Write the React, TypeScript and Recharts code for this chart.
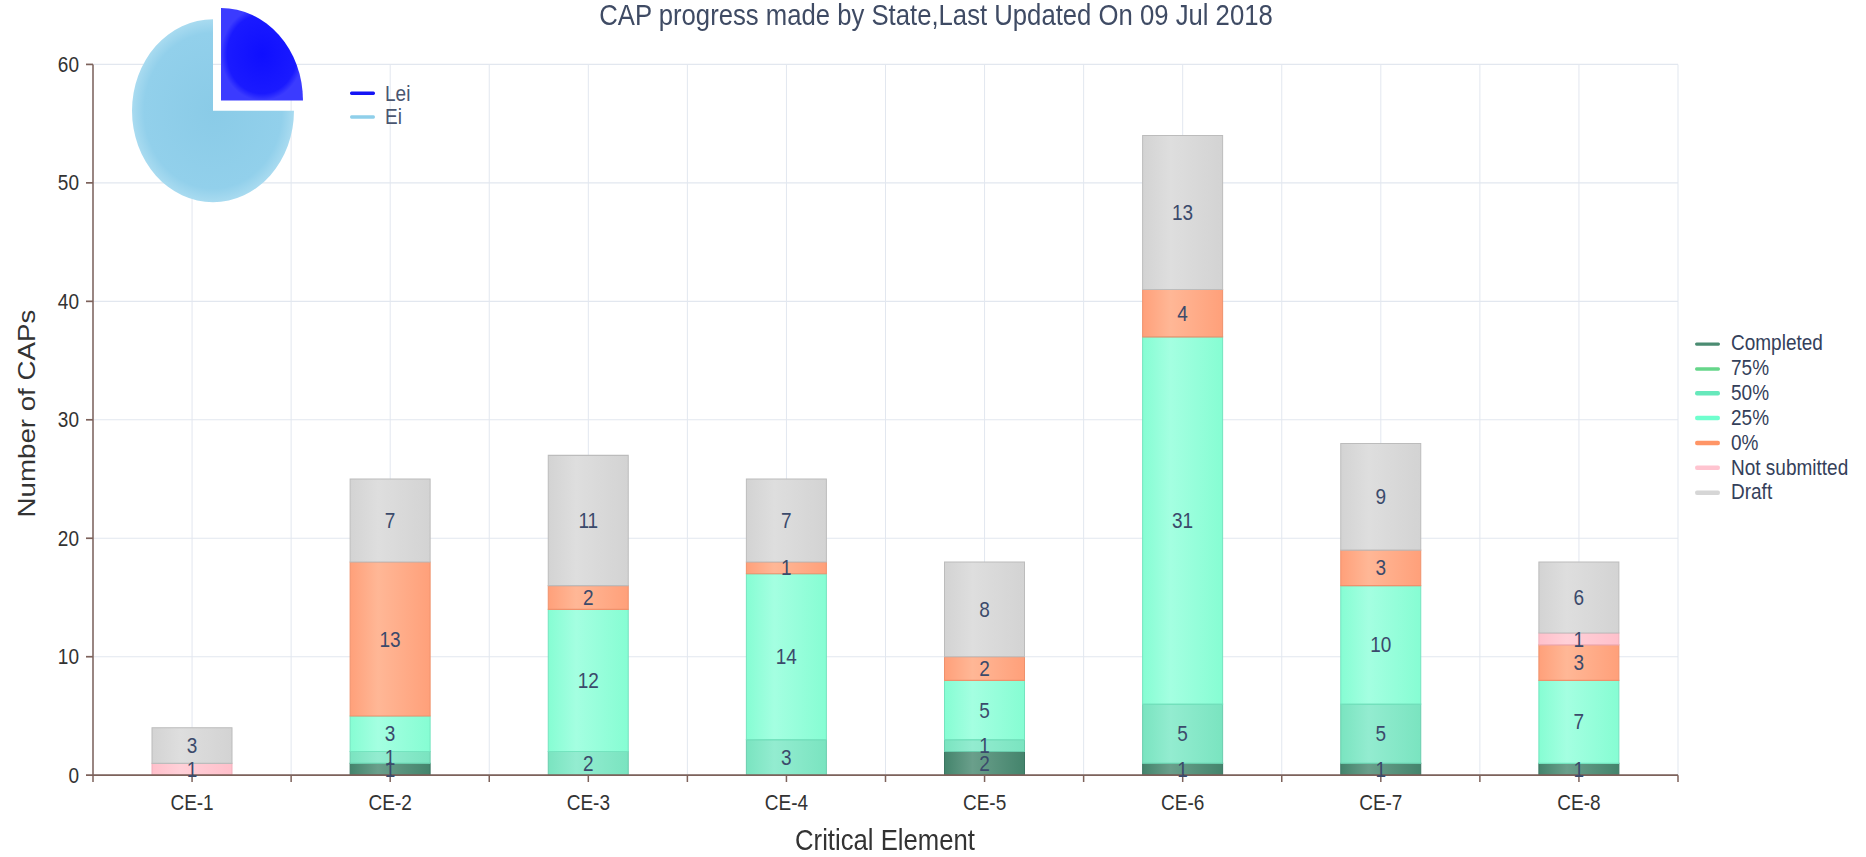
import React from 'react';
import { BarChart, Bar, XAxis, YAxis, CartesianGrid, LabelList, PieChart, Pie, Cell } from 'recharts';

// ---------------------------------------------------------------------------
// Data
// ---------------------------------------------------------------------------

const categories = ['CE-1', 'CE-2', 'CE-3', 'CE-4', 'CE-5', 'CE-6', 'CE-7', 'CE-8'];
const completed = [0, 1, 0, 0, 2, 1, 1, 1];
const pct75 = [0, 0, 0, 0, 0, 0, 0, 0];
const pct50 = [0, 1, 2, 3, 1, 5, 5, 0];
const pct25 = [0, 3, 12, 14, 5, 31, 10, 7];
const pct0 = [0, 13, 2, 1, 2, 4, 3, 3];
const notSubmitted = [1, 0, 0, 0, 0, 0, 0, 1];
const draft = [3, 7, 11, 7, 8, 13, 9, 6];
const yTicks = [0, 10, 20, 30, 40, 50, 60];

const pieNames = ['Lei', 'Ei'];
const pieValues = [1, 3];

// ---------------------------------------------------------------------------
// Styles
// ---------------------------------------------------------------------------

const FONT = '"Liberation Sans", Arial, sans-serif';
const AXIS = '#7d625b';
const STRETCH = 1.13; // the reference is stretched vertically
const W = 1866;
const H = 758;
const TICK_SIZE = 6;
const TICK_MARGIN = 11;

const series = [
  { key: 'completed', name: 'Completed', values: completed, base: '#44846c', light: '#6a9f8b', stroke: '#3a7561', legend: '#4b8c72' },
  { key: 'pct75', name: '75%', values: pct75, base: '#66d68a', light: '#84e0a2', stroke: '#58c07a', legend: '#66d68a' },
  { key: 'pct50', name: '50%', values: pct50, base: '#7ae4c0', light: '#93ecd0', stroke: '#6acdad', legend: '#66e8bb' },
  { key: 'pct25', name: '25%', values: pct25, base: '#86fdd3', light: '#a4ffe1', stroke: '#74e4bf', legend: '#6fffce' },
  { key: 'pct0', name: '0%', values: pct0, base: '#ffa07a', light: '#ffb796', stroke: '#ef916c', legend: '#ff9566' },
  { key: 'notSubmitted', name: 'Not submitted', values: notSubmitted, base: '#ffc0cb', light: '#ffd0d8', stroke: '#f0afbb', legend: '#ffc4d0' },
  { key: 'draft', name: 'Draft', values: draft, base: '#d3d3d3', light: '#dedede', stroke: '#bcbcbc', legend: '#d6d6d6' },
];

const rows = categories.map((name, i) => {
  const row: Record<string, string | number> = { name };
  series.forEach(s => { row[s.key] = s.values[i]; });
  return row;
});

const pieData = pieNames.map((name, i) => ({ name, value: pieValues[i] }));
const PIE_COLORS: Record<string, string> = { Lei: '#1414f5', Ei: '#8fcfea' };

// ---------------------------------------------------------------------------
// Pieces
// ---------------------------------------------------------------------------

function CategoryTick(props: any) {
  const { x, y, payload, index } = props;
  const half = payload?.offset || 99;
  const axisY = y - TICK_SIZE - TICK_MARGIN;
  return (
    <g>
      {index === 0 && <line x1={x - half} x2={x - half} y1={axisY} y2={axisY + TICK_SIZE} stroke={AXIS} strokeWidth={1.5} />}
      <line x1={x + half} x2={x + half} y1={axisY} y2={axisY + TICK_SIZE} stroke={AXIS} strokeWidth={1.5} />
      <text x={x} y={y} dy="0.71em" textAnchor="middle" fill="#333" fontSize={19} fontFamily={FONT}>{payload.value}</text>
    </g>
  );
}

function LegendRows({ items, rowHeight, gap }: { items: { name: string; color: string }[]; rowHeight: number; gap: number }) {
  return (
    <>
      {items.map(it => (
        <div key={it.name} style={{ display: 'flex', alignItems: 'center', height: rowHeight, whiteSpace: 'nowrap' }}>
          <span style={{ display: 'inline-block', width: 25, height: 3.5, borderRadius: 2, background: it.color, marginRight: gap }} />
          {it.name}
        </div>
      ))}
    </>
  );
}

export default function App() {
  return (
    <div style={{ position: 'absolute', left: 0, top: 0, width: W, height: H, background: '#fff', fontFamily: FONT, transform: `scaleY(${STRETCH})`, transformOrigin: '0 0' }}>
      <BarChart width={W} height={H} data={rows} margin={{ top: 57, right: 188, left: 33, bottom: 32 }}>
        <defs>
          {series.map(s => (
            <linearGradient key={s.key} id={`g-${s.key}`} x1="0" y1="0" x2="1" y2="0">
              <stop offset="0%" stopColor={s.base} />
              <stop offset="35%" stopColor={s.light} />
              <stop offset="100%" stopColor={s.base} />
            </linearGradient>
          ))}
        </defs>
        <CartesianGrid
          stroke="#e2e7ef"
          verticalCoordinatesGenerator={({ offset }: any) =>
            Array.from({ length: categories.length * 2 + 1 }, (_, i) => offset.left + (offset.width * i) / (categories.length * 2))}
        />
        <XAxis
          dataKey="name"
          height={40}
          stroke={AXIS}
          axisLine={{ stroke: AXIS, strokeWidth: 1.5 }}
          tickLine={{ stroke: AXIS, strokeWidth: 1.5 }}
          tickSize={TICK_SIZE}
          tickMargin={TICK_MARGIN}
          tick={<CategoryTick />}
          interval={0}
        />
        <YAxis
          width={60}
          domain={[0, 60]}
          ticks={yTicks}
          axisLine={{ stroke: AXIS, strokeWidth: 1.5 }}
          tickLine={{ stroke: AXIS, strokeWidth: 1.5 }}
          tickSize={7}
          tickMargin={7}
          tick={{ fill: '#333', fontSize: 19, fontFamily: FONT }}
        />
        {series.map(s => (
          <Bar
            key={s.key}
            dataKey={s.key}
            name={s.name}
            stackId="a"
            barSize={80}
            fill={`url(#g-${s.key})`}
            stroke={s.stroke}
            strokeWidth={1}
            isAnimationActive={false}
          >
            <LabelList
              dataKey={s.key}
              position="center"
              formatter={(v: any) => (v ? v : '')}
              fill="#3b4a6b"
              fontSize={19}
              fontFamily={FONT}
            />
          </Bar>
        ))}
      </BarChart>

      {/* series legend, right */}
      <div style={{ position: 'absolute', left: 1695, top: 293.5, fontSize: 19, color: '#34405a' }}>
        <LegendRows items={series.map(s => ({ name: s.name, color: s.legend }))} rowHeight={21.9} gap={11} />
      </div>

      {/* exploded pie, top left */}
      <div style={{ position: 'absolute', left: 90, top: 0 }}>
        <PieChart width={260} height={200} margin={{ top: 0, right: 0, bottom: 0, left: 0 }}>
          <defs>
            <radialGradient id="pie-ei" cx="50%" cy="50%" r="50%">
              <stop offset="0%" stopColor="#8acbe7" />
              <stop offset="85%" stopColor="#92d0eb" />
              <stop offset="100%" stopColor="#a9dbf0" />
            </radialGradient>
            <radialGradient id="pie-lei" cx="50%" cy="50%" r="50%">
              <stop offset="0%" stopColor="#0f0fff" />
              <stop offset="85%" stopColor="#1a1aff" />
              <stop offset="100%" stopColor="#3b3bff" />
            </radialGradient>
          </defs>
          <Pie data={pieData} dataKey="value" nameKey="name" cx={123} cy={98} outerRadius={81} startAngle={90} endAngle={-270} stroke="none" isAnimationActive={false}>
            {pieData.map(d => <Cell key={d.name} fill={d.name === 'Ei' ? 'url(#pie-ei)' : 'none'} />)}
          </Pie>
          <Pie data={pieData} dataKey="value" nameKey="name" cx={131} cy={89} outerRadius={82} startAngle={90} endAngle={-270} stroke="none" isAnimationActive={false}>
            {pieData.map(d => <Cell key={d.name} fill={d.name === 'Lei' ? 'url(#pie-lei)' : 'none'} />)}
          </Pie>
        </PieChart>
      </div>
      <div style={{ position: 'absolute', left: 350, top: 72, fontSize: 19, color: '#4a5670' }}>
        <LegendRows items={pieData.map(d => ({ name: d.name, color: PIE_COLORS[d.name] }))} rowHeight={21} gap={10} />
      </div>

      {/* titles */}
      <div style={{ position: 'absolute', left: 936, top: 0, transform: 'translateX(-50%)', fontSize: 25.7, lineHeight: '27px', color: '#3f4b64', whiteSpace: 'nowrap' }}>
        CAP progress made by State,Last Updated On 09 Jul 2018
      </div>
      <div style={{ position: 'absolute', left: 885, top: 744, transform: 'translate(-50%, -50%)', fontSize: 25.7, color: '#333', whiteSpace: 'nowrap' }}>
        Critical Element
      </div>
      <div style={{ position: 'absolute', left: 27, top: 366, transform: 'translate(-50%, -50%) rotate(-90deg)', fontSize: 24.5, color: '#333', whiteSpace: 'nowrap' }}>
        Number of CAPs
      </div>
    </div>
  );
}
